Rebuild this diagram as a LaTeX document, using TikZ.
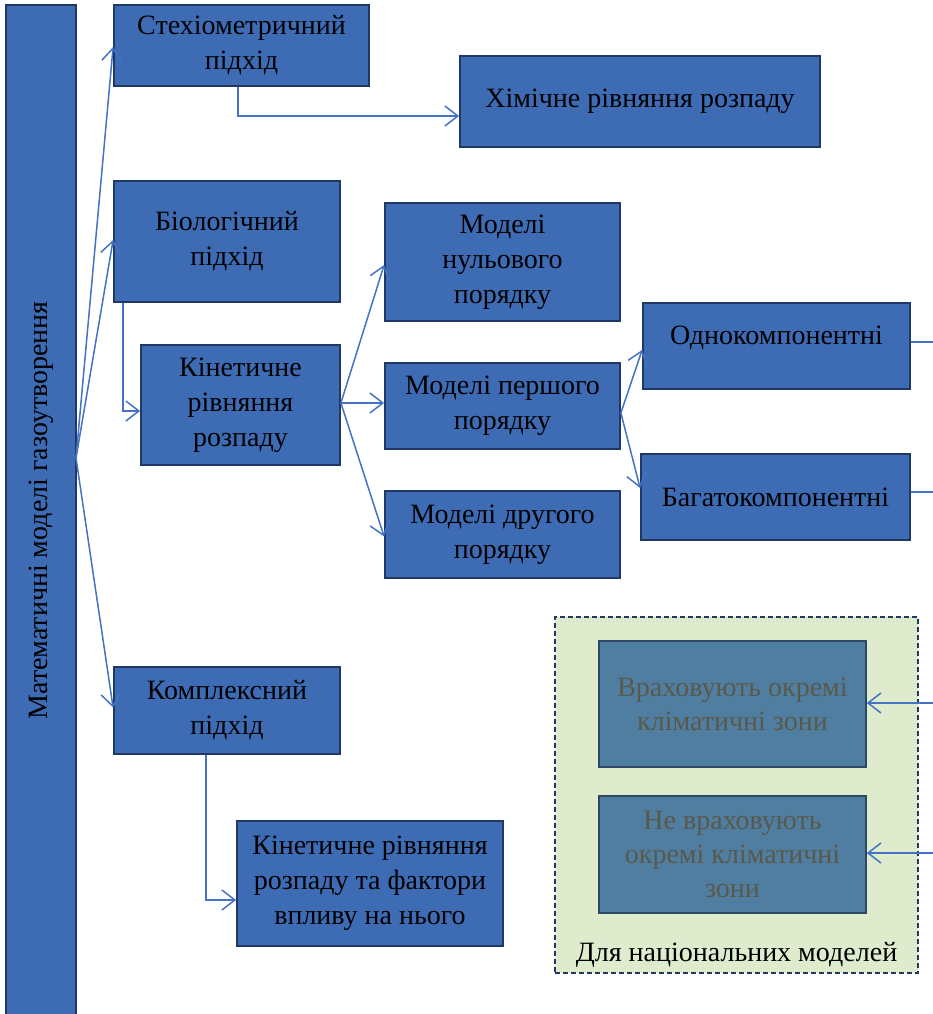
\documentclass[tikz,border=0pt]{standalone}
\usepackage{fontspec}
\setmainfont{Liberation Serif}
\usetikzlibrary{arrows.meta,calc}
\definecolor{boxblue}{RGB}{61,108,181}
\definecolor{navy}{RGB}{31,56,100}
\definecolor{conncol}{RGB}{68,114,196}
\definecolor{steel}{RGB}{80,126,161}
\definecolor{steelborder}{RGB}{45,72,100}
\definecolor{graytext}{RGB}{89,89,75}
\definecolor{lightgreen}{RGB}{222,235,205}
\begin{document}
\begin{tikzpicture}[x=1pt,y=-1pt,
  bxfont/.style={font=\fontsize{28}{35}\selectfont},
  bx/.style={draw=navy, fill=boxblue, line width=1.8pt, align=center, inner sep=0pt,
    bxfont, text=black},
  gbx/.style={draw=steelborder, fill=steel, line width=1.5pt, align=center, inner sep=0pt,
    font=\fontsize{28}{34}\selectfont, text=graytext},
  conn/.style={draw=conncol, line width=1.5pt, -{Straight Barb[length=13pt,width=20pt,line width=1.5pt]}},
  plain/.style={draw=conncol, line width=1.5pt}]
\useasboundingbox (0,0) rectangle (933,1014);
% green container
\node[draw=navy, fill=lightgreen, line width=1.5pt, dash pattern=on 5pt off 3pt,
  minimum width=363pt, minimum height=356pt, inner sep=0pt] (green) at (736.5,795) {};
\node[bxfont] (greenlbl) at (736.5,955) {Для національних моделей};
% main
\node[bx, rotate=90, minimum width=1011pt, minimum height=70pt] (main) at (41,510.5) {Математичні моделі газоутворення};
\node[bx, minimum width=255pt, minimum height=81pt] (steh) at (241.5,45.5) {Стехіометричний\\підхід};
\node[bx, minimum width=360pt, minimum height=91pt] (him) at (640,101.5) {Хімічне рівняння розпаду};
\node[bx, minimum width=226pt, minimum height=121pt] (bio) at (227,241.5) {Біологічний\\підхід};
\node[bx, minimum width=199pt, minimum height=120pt] (kin) at (240.5,405) {Кінетичне\\рівняння\\розпаду};
\node[bx, minimum width=235pt, minimum height=118pt] (m0) at (502.5,262) {Моделі\\нульового\\порядку};
\node[bx, minimum width=235pt, minimum height=86pt] (m1) at (502.5,406) {Моделі першого\\порядку};
\node[bx, minimum width=235pt, minimum height=87pt] (m2) at (502.5,534.5) {Моделі другого\\порядку};
\node[bx, minimum width=267pt, minimum height=86pt,
  label={[bxfont, yshift=8pt]center:Однокомпонентні}] (one) at (776.5,346) {};
\node[bx, minimum width=269pt, minimum height=86pt] (multi) at (775.5,497) {Багатокомпонентні};
\node[bx, minimum width=226pt, minimum height=87pt] (kompl) at (227,710.5) {Комплексний\\підхід};
\node[bx, minimum width=266pt, minimum height=125pt] (kinf) at (370,883.5) {Кінетичне рівняння\\розпаду та фактори\\впливу на нього};
\node[gbx, minimum width=267pt, minimum height=126pt] (vr) at (732.5,704) {Враховують окремі\\кліматичні зони};
\node[gbx, minimum width=267pt, minimum height=117pt] (nevr) at (732.5,854.5) {Не враховують\\окремі кліматичні\\зони};
% coordinates
\coordinate (fan) at (76,458);
\coordinate (oneout) at (933,342);
\coordinate (multiout) at (933,492);
\coordinate (vrin) at (933,703);
\coordinate (nevrin) at (933,853);
% connectors
\draw[conn] (fan) -- ($(steh.west)+(0,1.5)$);
\draw[conn] (fan) -- ($(bio.west)+(0,-1.5)$);
\draw[conn] (fan) -- ($(kompl.west)+(0,-3)$);
\draw[conn] ($(steh.south)+(-3.5,0)$) |- ($(him.west)+(0,14.5)$);
\draw[conn] ($(bio.south west)+(10,0)$) |- ($(kin.west)+(0,6)$);
\draw[conn] ($(kin.east)+(0,-2)$) -- ($(m0.west)+(0,3)$);
\draw[conn] ($(kin.east)+(0,-2)$) -- ($(m1.west)+(0,-3)$);
\draw[conn] ($(kin.east)+(0,-2)$) -- ($(m2.west)+(0,2)$);
\draw[conn] ($(m1.east)+(0,7)$) -- ($(one.west)+(0,4)$);
\draw[conn] ($(m1.east)+(0,7)$) -- ($(multi.west)+(0,-9)$);
\draw[plain] (one.east |- oneout) -- (oneout);
\draw[plain] (multi.east |- multiout) -- (multiout);
\draw[conn] (vrin) -- (vr.east |- vrin);
\draw[conn] (nevrin) -- (nevr.east |- nevrin);
\draw[conn] ($(kompl.south)+(-21,0)$) |- ($(kinf.west)+(0,16.5)$);
\end{tikzpicture}
\end{document}
